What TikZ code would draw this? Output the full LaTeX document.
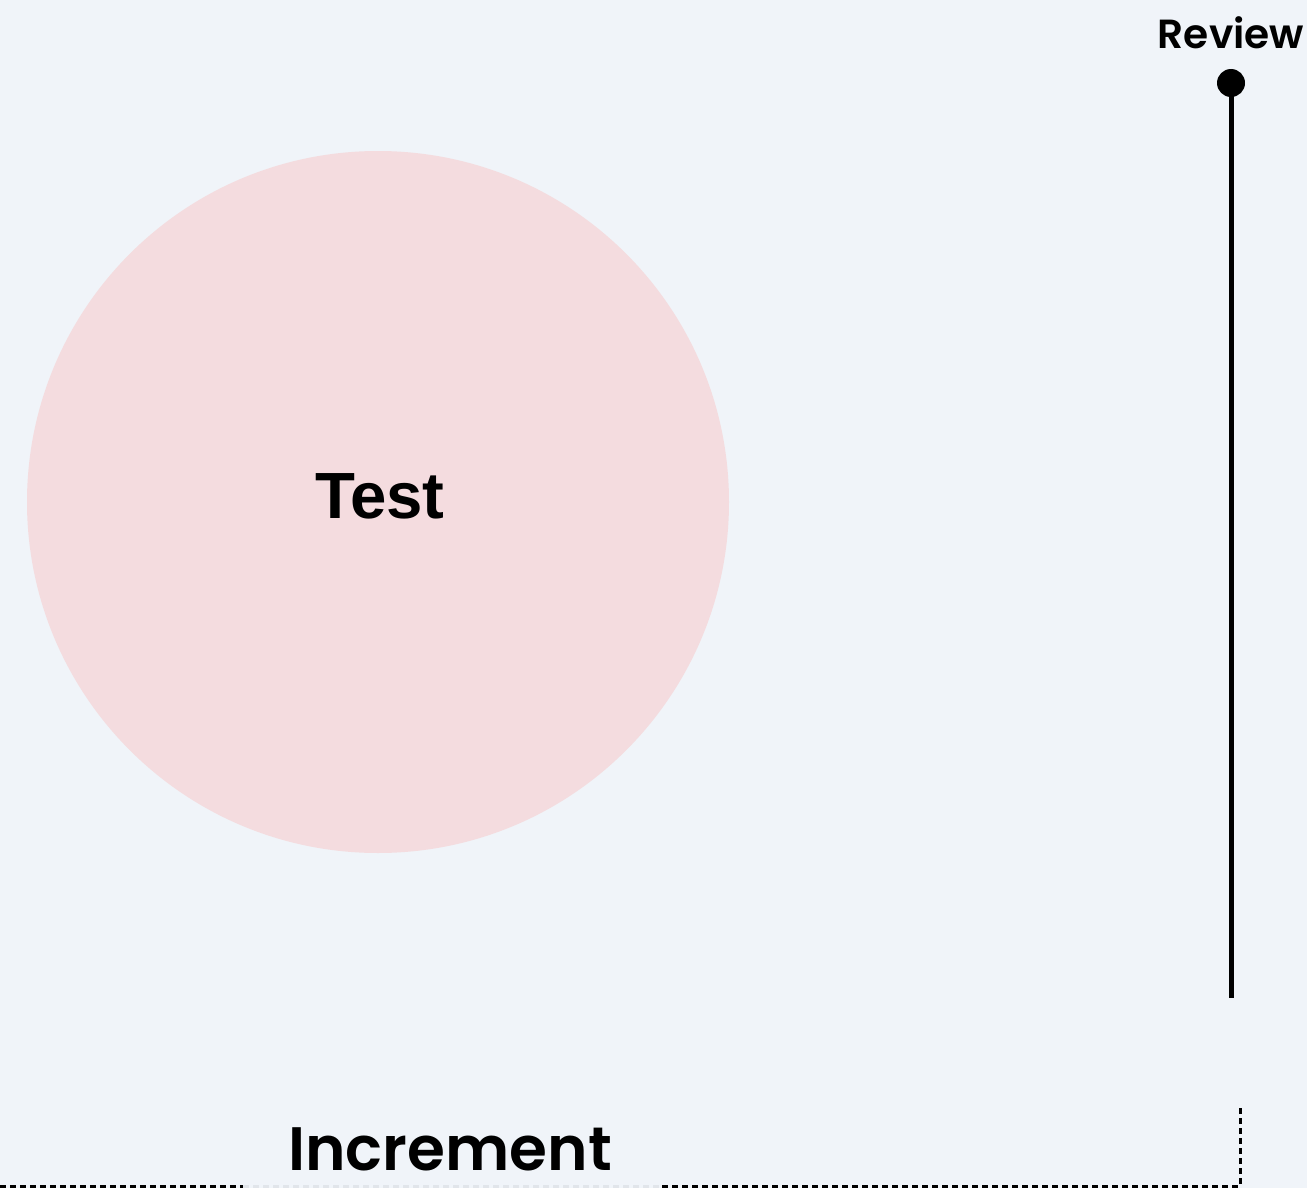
\documentclass[tikz,border=0pt]{standalone}
\usepackage{fontspec}
\setmainfont{Liberation Sans}
\newfontfamily\headfont{Poppins}[UprightFont=* SemiBold]
\definecolor{bgc}{HTML}{F0F4F9}
\definecolor{circc}{HTML}{F4DCDF}
\begin{document}
\begin{tikzpicture}[x=0.75pt,y=-0.75pt,
  dashline/.style={line width=2.25pt, dash pattern=on 4.5pt off 3pt},
  bigtext/.style={font=\headfont\fontsize{46}{50}\selectfont, inner sep=0pt},
  tagtext/.style={font=\headfont\fontsize{30.5}{34}\selectfont, inner sep=0pt},
]
\fill[bgc] (0,0) rectangle (1307,1188);
\useasboundingbox (0,0) rectangle (1307,1188);
\node[circle, fill=circc, minimum size=702*0.75pt, inner sep=0pt] (test) at (378,502) {};
\node[font=\bfseries\fontsize{49}{54}\selectfont, inner sep=0pt, anchor=base] (testlbl) at (380,518) {Test};
\coordinate (rtop) at (1231,83);
\coordinate (rbot) at (1231,998);
\draw[line width=3.75pt] (rtop) -- (rbot);
\fill (rtop) circle[radius=14*0.75pt];
\node[tagtext, anchor=base] (review) at (1231,49) {Review};
\coordinate (bl) at (0,1186);
\coordinate (g1) at (243,1186);
\coordinate (g2) at (662,1186);
\coordinate (br) at (1240,1186);
\coordinate (bt) at (1240,1106);
\draw[dashline] (bl) -- (g1);
\draw[dashline, draw opacity=0.06] (g1) -- (g2);
\draw[dashline] (g2) -- (br) -- (bt);
\node[bigtext, anchor=base] (inc) at (450,1170) {Increment};
\end{tikzpicture}
\end{document}
